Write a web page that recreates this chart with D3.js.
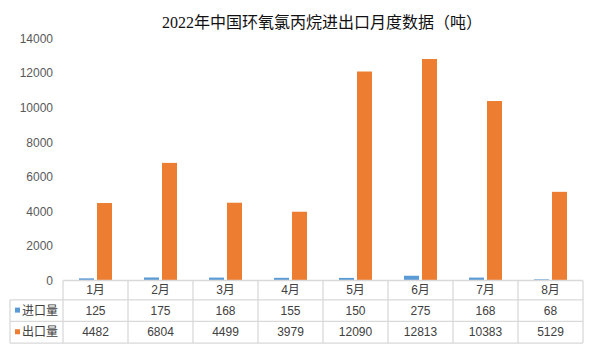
<!DOCTYPE html>
<html><head><meta charset="utf-8">
<script src="https://cdn.jsdelivr.net/npm/d3@7"></script>
<style>
html,body{margin:0;padding:0;background:#fff;}
svg{display:block;}
</style>
</head><body>
<svg id="chart" width="595" height="355"></svg>
<script>
const title = "2022年中国环氧氯丙烷进出口月度数据（吨）";
const months = ["1月","2月","3月","4月","5月","6月","7月","8月"];
const importVals = [125,175,168,155,150,275,168,68];
const exportVals = [4482,6804,4499,3979,12090,12813,10383,5129];
const yTicks = [0,2000,4000,6000,8000,10000,12000,14000];
const seriesNames = ["进口量","出口量"];
const seriesColors = ["#5B9BD5","#ED7D31"];

(function(){
const svg = d3.select("#chart");
const pLeft = 63, pRight = 583, pTop = 38.5, pBottom = 280.5;
const rowH = [19.3, 21.6, 21.7];
const tableLeft = 10;

const x = d3.scaleBand().domain(months).range([pLeft, pRight]).padding(0);
const y = d3.scaleLinear().domain([0, 14000]).range([pBottom, pTop]);

// title
svg.append("text")
  .attr("x", 322).attr("y", 28)
  .attr("text-anchor", "middle")
  .attr("font-family", "'Liberation Serif','Noto Sans CJK SC',serif")
  .attr("font-size", 16)
  .attr("fill", "#111")
  .text(title);

// y axis
const yAxis = d3.axisLeft(y).tickValues(yTicks).tickSize(0).tickPadding(10).tickFormat(d3.format("d"));
const ga = svg.append("g").attr("transform", `translate(${pLeft},0)`).call(yAxis);
ga.select(".domain").remove();
ga.selectAll("text")
  .attr("font-family", "'Liberation Sans',Arial,sans-serif")
  .attr("font-size", 12)
  .attr("fill", "#595959");

// bars
const bw = 15, gap = 3;
const series = [importVals, exportVals];
series.forEach((vals, si) => {
  svg.append("g").selectAll("rect").data(vals).join("rect")
    .attr("x", (d, i) => x(months[i]) + x.bandwidth()/2 + (si === 0 ? -gap/2 - bw : gap/2))
    .attr("y", d => y(d))
    .attr("width", bw)
    .attr("height", d => y(0) - y(d))
    .attr("fill", seriesColors[si]);
});

// table
const tb = svg.append("g");
const lineColor = "#d9d9d9";
const r0 = pBottom, r1 = r0 + rowH[0], r2 = r1 + rowH[1], r3 = r2 + rowH[2];
tb.append("line").attr("x1", pLeft).attr("x2", pRight).attr("y1", r0).attr("y2", r0);
[r1, r2, r3].forEach(yy => tb.append("line").attr("x1", tableLeft).attr("x2", pRight).attr("y1", yy).attr("y2", yy));
months.forEach(m => tb.append("line").attr("x1", x(m)).attr("x2", x(m)).attr("y1", r0).attr("y2", r3));
tb.append("line").attr("x1", pRight).attr("x2", pRight).attr("y1", r0).attr("y2", r3);
tb.append("line").attr("x1", tableLeft).attr("x2", tableLeft).attr("y1", r1).attr("y2", r3);
tb.selectAll("line").attr("stroke", lineColor).attr("stroke-width", 1.3);

const txt = (sel) => sel.attr("font-family", "'Liberation Sans','Noto Sans CJK SC',sans-serif")
  .attr("font-size", 12).attr("fill", "#404040").attr("text-anchor", "middle").attr("dominant-baseline", "central");

tb.append("g").selectAll("text").data(months).join("text")
  .attr("x", d => x(d) + x.bandwidth()/2).attr("y", (r0 + r1)/2).text(d => d).call(txt);

const rowsY = [(r1 + r2)/2, (r2 + r3)/2];
series.forEach((vals, si) => {
  tb.append("g").selectAll("text").data(vals).join("text")
    .attr("x", (d, i) => x(months[i]) + x.bandwidth()/2).attr("y", rowsY[si]).text(d => d).call(txt);
  tb.append("rect").attr("x", 15).attr("y", rowsY[si] - 3).attr("width", 5).attr("height", 5).attr("fill", seriesColors[si]);
  tb.append("text").attr("x", 22).attr("y", rowsY[si]).text(seriesNames[si]).call(txt).attr("text-anchor", "start");
});
})();
</script>
</body></html>
